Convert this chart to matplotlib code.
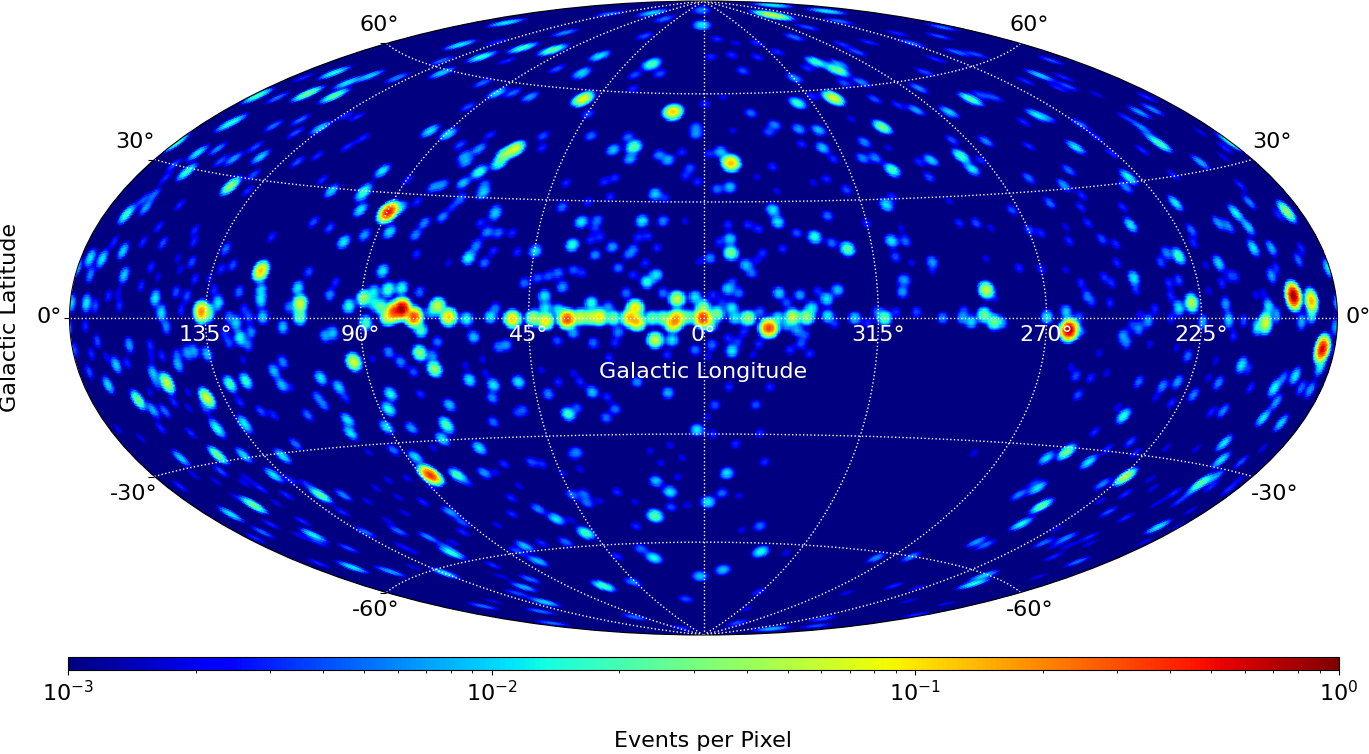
import numpy as np
import matplotlib
matplotlib.use("Agg")
import matplotlib.pyplot as plt
from matplotlib.colors import LogNorm

# sources: (x across, y down on the map sheet, events per pixel at the peak)
north_far_left = [
    (257,96,.02),(277,98,.005),(307,94,.03),(334,96,.025),(334,73,.015),(347,83,.012),(370,76,.01),(303,78,.003),
    (226,125,.01),(235,121,.01),(273,126,.005),(300,120,.005),(320,128,.01),(295,133,.004),(345,116,.003),(357,117,.003),
    (175,143,.02),(197,153,.012),(217,149,.006),(233,159,.007),(220,161,.004),(260,157,.01),(255,147,.004),(186,172,.018),
    (173,165,.004),(230,186,.04),(253,175,.004),(247,191,.003),(165,178,.003),(153,195,.005),(142,200,.004),(145,208,.007),
    (127,213,.01),(179,205,.003),(297,162,.004),(317,156,.003),(347,147,.003),(363,138,.003),(382,171,.012),(364,190,.012),
    (362,195,.01),(331,191,.01),(322,180,.003),(360,210,.012),
]
north_mid_left = [
    (506,23,.012),(460,45,.012),(482,57,.016),(523,48,.018),(553,50,.025),(565,33,.006),(507,61,.003),(442,61,.005),
    (442,73,.01),(397,78,.006),(497,42,.003),(600,56,.012),(557,69,.004),(582,72,.007),(582,75,.005),(497,93,.01),
    (483,83,.005),(513,93,.005),(530,97,.007),(583,99,.08),(468,107,.004),(652,64,.022),(635,75,.004),(660,74,.004),
    (645,36,.004),(665,19,.005),(653,13,.01),(610,14,.005),(673,112,.12),(588,114,.004),(633,89,.003),(702,25,.012),
    (702,10,.006),(430,131,.012),(448,134,.012),(460,145,.004),(479,149,.007),(464,156,.007),(466,162,.007),(479,172,.018),
    (463,183,.009),(433,187,.006),(442,185,.006),(484,185,.005),(483,193,.01),(460,199,.005),(515,149,.07),(505,154,.04),
    (499,163,.02),(543,136,.004),(542,148,.003),(490,135,.003),(591,136,.005),(613,150,.009),(634,147,.025),(628,137,.005),
    (630,159,.008),(659,155,.006),(668,160,.008),(696,127,.005),(696,134,.006),(690,168,.004),(685,176,.003),(566,183,.003),
    (604,182,.003),(615,178,.003),(655,194,.01),(665,198,.003),(588,202,.003),(610,197,.003),(562,207,.005),(495,210,.005),
    (682,152,.003),(698,182,.003),(705,104,.003),(388,212,.5),(400,208,.01),(417,202,.003),(452,207,.003),(407,180,.003),
]
north_mid_right = [
    (773,15,.06),(827,11,.012),(773,5,.012),(840,21,.005),(808,27,.004),(795,37,.005),(717,39,.003),(736,43,.002),
    (757,43,.003),(711,57,.003),(732,55,.003),(758,57,.003),(778,52,.003),(743,71,.004),(817,62,.018),(838,70,.03),
    (840,64,.007),(808,68,.003),(795,78,.007),(845,83,.004),(862,82,.006),(798,103,.018),(834,98,.07),(813,96,.003),
    (875,99,.004),(899,105,.003),(917,110,.007),(920,88,.006),(926,72,.004),(950,112,.01),(972,99,.022),(982,95,.004),
    (995,97,.004),(958,52,.005),(977,54,.004),(940,36,.004),(943,27,.005),(870,42,.003),(913,43,.005),(843,44,.003),
    (858,52,.004),(898,33,.003),(937,59,.003),(751,113,.005),(723,97,.002),(775,125,.006),(769,132,.004),(799,129,.007),
    (819,130,.009),(823,148,.009),(802,144,.003),(883,127,.03),(865,142,.006),(953,140,.004),(987,141,.006),(962,156,.02),
    (973,169,.012),(982,160,.003),(932,160,.01),(920,162,.003),(930,177,.004),(893,170,.02),(863,158,.006),(876,158,.006),
    (834,159,.003),(773,167,.003),(757,177,.002),(721,152,.009),(731,163,.14),(709,154,.003),(730,187,.009),(717,189,.005),
    (777,191,.002),(814,183,.002),(827,179,.003),(847,190,.004),(733,131,.002),(887,205,.012),(893,197,.003),(773,210,.012),
    (950,201,.002),(1013,210,.004),(852,119,.002),(889,148,.002),
]
north_far_right = [
    (1041,75,.01),(1052,60,.004),(1065,77,.003),(1069,86,.004),(1060,88,.003),(1027,81,.003),(1038,115,.012),(1048,117,.005),
    (1025,122,.003),(1141,112,.007),(1154,109,.006),(1127,117,.003),(1143,127,.006),(1162,144,.02),(1152,137,.005),(1144,150,.003),
    (1202,162,.008),(1227,148,.003),(1225,138,.003),(1225,157,.002),(1202,132,.002),(1077,147,.012),(1030,146,.003),(1070,170,.005),
    (1030,178,.005),(1130,177,.015),(1065,185,.007),(1083,195,.003),(1127,187,.006),(1051,203,.005),(1082,207,.003),(1124,207,.003),
    (1177,203,.012),(1251,202,.006),(1237,212,.008),(1288,211,.03),(1242,185,.003),(1082,124,.005),(1098,137,.003),(1113,153,.003),
    (1148,97,.003),(1098,94,.002),(1175,175,.003),
]
plane_far_left = [
    (200,312,.2),(207,313,.03),(217,303,.012),(89,258,.012),(101,259,.012),(122,251,.01),(123,275,.01),(89,275,.006),
    (85,303,.012),(70,303,.01),(94,306,.004),(107,296,.003),(118,306,.003),(117,293,.002),(140,286,.003),(154,298,.012),
    (160,313,.012),(165,327,.006),(175,292,.004),(180,310,.003),(186,296,.004),(194,279,.003),(191,262,.004),(177,258,.002),
    (179,270,.002),(157,277,.002),(150,267,.003),(142,242,.003),(113,242,.003),(162,243,.004),(158,227,.003),(124,216,.009),
    (194,230,.003),(193,242,.003),(225,249,.005),(232,265,.004),(220,269,.003),(208,278,.002),(213,290,.003),(271,237,.003),
    (260,271,.13),(260,290,.01),(260,300,.012),(262,317,.01),(238,292,.005),(243,309,.003),(248,317,.004),(235,323,.01),
    (228,317,.005),(250,332,.006),(239,338,.015),(247,345,.005),(228,343,.004),(223,333,.003),(282,327,.009),(299,304,.07),
    (299,317,.025),(297,288,.012),(308,272,.004),(288,307,.005),(329,295,.006),(335,282,.003),(348,306,.016),(343,242,.012),
    (364,235,.007),(329,228,.004),(313,222,.004),(382,271,.012),(363,298,.04),(373,292,.012),(373,303,.012),(387,290,.012),
    (324,336,.007),(332,333,.009),(353,362,.07),(372,359,.002),(365,323,.02),(186,353,.007),(193,351,.007),(206,354,.009),
    (177,365,.008),(176,355,.004),(161,356,.003),(149,345,.003),(150,357,.002),(128,345,.007),(96,341,.004),(84,326,.003),
    (73,350,.004),(90,354,.003),(105,357,.002),(115,365,.01),(126,363,.003),(88,372,.004),(107,385,.011),(152,373,.009),
    (166,383,.06),(155,383,.004),(149,392,.002),(137,400,.03),(152,410,.008),(164,411,.005),(206,398,.07),(204,408,.004),
    (173,402,.003),(187,392,.002),(188,408,.002),(229,384,.02),(245,381,.018),(239,402,.003),(242,360,.002),(273,371,.009),
    (282,362,.006),(281,385,.009),(290,387,.002),(320,378,.012),(338,387,.01),(345,398,.003),(317,397,.005),(323,405,.005),
    (260,411,.004),(273,415,.003),(307,415,.005),(347,420,.012),(243,422,.009),(215,425,.006),
]
plane_mid_left = [
    (389,232,.011),(415,235,.006),(424,223,.006),(442,217,.006),(495,215,.007),(480,223,.003),(487,232,.006),(498,233,.005),
    (512,233,.003),(477,243,.003),(468,258,.015),(475,248,.004),(484,263,.005),(493,251,.003),(517,252,.003),(535,251,.011),
    (416,254,.003),(448,263,.002),(401,288,.015),(388,289,.009),(419,292,.005),(437,306,.06),(401,309,.9),(393,312,.3),
    (413,317,.35),(448,317,.12),(430,312,.008),(466,319,.015),(420,330,.02),(387,317,.06),(380,307,.025),(473,337,.009),
    (437,342,.005),(419,353,.035),(432,356,.006),(388,352,.006),(400,362,.006),(413,372,.004),(434,369,.04),(469,380,.012),
    (493,385,.012),(492,398,.006),(449,405,.009),(390,394,.014),(388,409,.016),(420,394,.003),(498,347,.005),(506,345,.006),
    (518,382,.012),(548,394,.006),(523,410,.004),(517,413,.003),(568,414,.018),(577,408,.004),(592,392,.009),(580,382,.003),
    (615,409,.005),(607,397,.003),(493,422,.005),(445,423,.012),(606,418,.005),(485,373,.002),(465,365,.002),(482,359,.002),
    (558,382,.003),(541,370,.002),(573,373,.002),(593,343,.005),(615,343,.003),(557,341,.004),(573,333,.007),(618,332,.006),
    (655,340,.06),(672,340,.012),(667,355,.003),(609,358,.003),(637,382,.006),(668,393,.008),(695,350,.005),
]
plane_ridge = [
    (490,317,.012),(512,319,.12),(533,318,.05),(545,321,.1),(567,319,.35),(580,317,.06),(590,317,.05),(599,317,.1),
    (613,318,.03),(630,318,.15),(637,322,.12),(635,308,.1),(652,318,.025),(663,318,.03),(673,323,.15),(677,318,.15),
    (677,299,.06),(703,318,.4),(688,317,.025),(695,297,.012),(544,296,.012),(591,303,.015),(608,307,.006),(558,310,.012),
    (545,308,.012),(495,308,.005),(562,287,.007),(524,283,.005),(626,293,.005),(647,282,.015),(656,275,.012),(663,293,.005),
    (618,268,.005),(633,275,.003),(558,273,.005),(548,276,.004),(537,278,.004),(573,270,.004),(582,273,.003),(595,255,.006),
    (572,245,.016),(612,247,.007),(633,250,.005),(628,255,.004),(645,263,.003),(657,248,.003),(590,240,.003),(600,237,.003),
    (581,222,.012),(597,220,.005),(595,228,.003),(642,221,.012),(663,221,.006),(638,237,.003),(648,236,.003),(685,221,.002),
    (699,262,.002),
]
plane_mid_right = [
    (731,253,.03),(730,239,.01),(719,242,.003),(710,258,.006),(728,225,.003),(748,225,.003),(759,229,.003),(778,222,.012),
    (828,216,.005),(797,233,.004),(815,237,.016),(832,243,.005),(848,249,.025),(783,249,.003),(763,253,.003),(746,265,.009),
    (752,273,.005),(757,260,.002),(728,289,.01),(739,293,.005),(733,282,.003),(732,308,.012),(722,303,.003),(713,295,.003),
    (717,314,.03),(703,307,.03),(710,325,.02),(735,318,.012),(748,318,.04),(760,312,.005),(769,328,.35),(779,293,.01),
    (800,295,.007),(787,303,.004),(778,318,.012),(793,317,.06),(807,317,.04),(812,308,.012),(787,325,.007),(797,330,.007),
    (805,335,.004),(827,299,.012),(818,291,.003),(838,290,.009),(828,316,.012),(835,324,.003),(744,332,.003),(728,338,.003),
    (738,342,.003),(712,345,.005),(732,351,.012),(759,344,.003),(753,355,.002),(708,357,.002),(790,350,.003),(801,344,.004),
    (810,354,.003),(855,318,.01),(885,318,.025),(868,323,.003),(878,312,.005),(897,312,.003),(917,312,.004),(943,318,.006),
    (963,318,.007),(972,322,.01),(985,315,.03),(995,322,.03),(1003,323,.006),(965,310,.003),(987,290,.06),(996,298,.002),
    (903,292,.007),(906,280,.005),(933,262,.007),(933,271,.002),(902,280,.003),(892,241,.012),(906,241,.005),(896,257,.004),
    (912,263,.002),(960,223,.003),(977,223,.004),(992,228,.002),(1020,268,.003),(987,259,.002),(867,223,.003),(902,228,.002),
    (729,387,.003),(770,387,.003),(715,405,.004),(756,405,.004),(707,417,.002),
]
plane_far_right = [
    (1070,330,.8),(1067,312,.01),(1080,317,.004),(1081,332,.005),(1048,317,.012),(1088,296,.005),(1093,302,.003),(1082,283,.003),
    (1111,303,.003),(1135,278,.012),(1137,290,.003),(1113,283,.003),(1105,277,.003),(1118,263,.003),(1132,225,.012),(1117,244,.003),
    (1103,239,.004),(1070,241,.003),(1042,233,.003),(1030,230,.004),(1089,223,.003),(1067,227,.002),(1067,270,.002),(1042,269,.003),
    (1149,321,.007),(1140,329,.006),(1133,325,.003),(1124,336,.007),(1128,343,.005),(1156,309,.003),(1141,314,.002),(1151,344,.002),
    (1100,353,.002),(1072,367,.002),(1077,376,.004),(1092,378,.003),(1108,373,.002),(1140,382,.005),(1079,395,.004),(1189,356,.005),
    (1178,348,.002),(1193,230,.005),(1180,256,.02),(1168,253,.006),(1162,262,.004),(1195,243,.003),(1170,283,.003),(1180,280,.004),
    (1172,296,.003),(1180,308,.012),(1193,303,.05),(1172,318,.003),(1204,322,.008),(1220,263,.011),(1207,265,.002),(1220,223,.007),
    (1230,226,.006),(1250,227,.01),(1255,248,.012),(1273,248,.008),(1300,260,.005),(1303,248,.003),(1238,214,.006),(1290,213,.012),
    (1280,215,.003),(1273,276,.007),(1278,268,.003),(1223,283,.003),(1231,276,.003),(1237,276,.003),(1210,291,.002),(1257,295,.002),
    (1265,293,.002),(1227,304,.007),(1230,320,.011),(1245,321,.004),(1270,307,.012),(1278,315,.007),(1267,323,.07),(1259,327,.014),
    (1295,296,.9),(1313,301,.15),(1313,315,.012),(1303,322,.008),(1337,327,.007),(1330,268,.012),(1324,349,.6),(1322,367,.012),
    (1297,376,.012),(1285,378,.005),(1276,388,.014),(1278,402,.007),(1303,388,.005),(1312,390,.007),(1265,418,.012),(1283,423,.01),
    (1243,365,.012),(1250,369,.003),(1235,336,.003),(1217,361,.002),(1220,383,.006),(1210,378,.002),(1252,388,.003),(1179,382,.007),
    (1164,386,.006),(1195,395,.006),(1157,398,.002),(1173,403,.003),(1213,412,.003),(1225,411,.006),(1125,416,.016),(1119,407,.002),
]
south_far_left = [
    (217,430,.012),(160,428,.003),(117,429,.002),(140,438,.002),(190,433,.003),(180,458,.01),(217,455,.03),(243,455,.011),
    (282,456,.012),(295,444,.005),(245,427,.006),(273,475,.012),(290,480,.003),(220,471,.004),(193,475,.002),(179,486,.003),
    (215,481,.002),(245,477,.002),(243,483,.002),(260,488,.003),(253,505,.03),(230,514,.012),(235,497,.002),(306,484,.003),
    (320,495,.025),(343,495,.006),(286,495,.003),(276,503,.002),(342,512,.003),(302,521,.003),(270,524,.003),(262,532,.005),
    (255,538,.003),(313,535,.013),(317,542,.003),(298,535,.002),(348,548,.004),(365,532,.005),(352,567,.012),(318,563,.003),
    (368,452,.002),(350,433,.012),(386,427,.012),(376,488,.002),(367,501,.002),(385,570,.003),
]
south_mid_left = [
    (411,428,.007),(447,427,.012),(442,439,.012),(393,450,.005),(415,457,.011),(479,448,.012),(430,475,.4),(457,475,.02),
    (467,482,.003),(484,473,.007),(504,464,.003),(496,472,.002),(531,462,.004),(542,464,.003),(433,448,.002),(572,455,.003),
    (577,452,.005),(580,469,.002),(562,473,.002),(432,488,.002),(519,486,.002),(511,498,.003),(538,509,.006),(556,519,.012),
    (512,514,.003),(423,502,.003),(407,478,.002),(388,480,.002),(398,497,.002),(405,513,.002),(450,512,.007),(462,522,.004),
    (387,520,.002),(398,531,.005),(463,532,.003),(497,525,.002),(428,537,.006),(453,542,.002),(452,553,.016),(447,547,.004),
    (412,551,.002),(400,545,.002),(445,573,.011),(393,572,.005),(413,567,.002),(493,565,.003),(501,576,.002),(517,551,.004),
    (525,546,.009),(538,561,.009),(542,543,.003),(566,542,.005),(586,533,.02),(530,579,.005),(524,587,.008),(517,593,.004),
    (545,602,.01),(483,606,.005),(493,601,.002),(540,611,.005),(552,623,.005),(571,520,.002),(617,492,.003),(635,502,.002),
    (600,501,.002),(572,495,.005),(584,494,.005),(587,503,.005),(656,481,.009),(670,492,.012),(671,507,.004),(655,516,.025),
    (636,526,.003),(650,451,.002),(670,445,.002),(661,463,.002),(682,458,.002),(678,477,.002),(697,430,.012),(708,502,.012),
    (687,505,.002),(641,549,.005),(654,558,.014),(617,556,.003),(700,576,.009),(686,599,.004),(604,586,.02),(633,582,.006),
    (635,617,.005),(682,628,.003),
]
south_mid_right = [
    (713,434,.003),(760,433,.003),(736,444,.003),(765,462,.003),(727,473,.011),(722,493,.005),(739,496,.002),(760,526,.005),
    (742,530,.002),(761,552,.015),(787,553,.002),(723,570,.009),(759,592,.003),(877,558,.006),(912,557,.006),(978,542,.007),
    (987,545,.005),(985,576,.01),(975,584,.014),(1020,495,.006),(1023,524,.014),(975,453,.002),(895,586,.003),(918,588,.002),
    (910,601,.002),(848,593,.002),(947,604,.002),(917,615,.003),(823,619,.004),(817,626,.004),(772,629,.008),(738,623,.004),
    (747,609,.002),
]
south_far_right = [
    (1068,452,.03),(1048,458,.011),(1090,462,.012),(1109,449,.003),(1096,432,.003),(1132,442,.004),(1137,453,.003),(1127,477,.05),
    (1104,484,.006),(1152,479,.002),(1168,448,.002),(1226,443,.012),(1223,460,.012),(1198,449,.002),(1243,462,.004),(1265,448,.002),
    (1203,483,.025),(1217,477,.007),(1193,492,.004),(1213,487,.003),(1180,502,.003),(1176,493,.003),(1230,490,.003),(1240,480,.002),
    (1039,488,.012),(1035,483,.003),(1043,506,.025),(1127,494,.003),(1155,488,.002),(1102,501,.002),(1110,512,.004),(1127,518,.003),
    (1158,504,.002),(1192,511,.002),(1160,527,.012),(1068,538,.006),(1091,537,.003),(1045,543,.005),(1057,546,.002),(1070,546,.002),
    (1091,544,.002),(1055,557,.003),(1079,562,.005),(1058,529,.002),(1147,542,.002),(1180,527,.002),(1040,577,.002),
]

lon_ticks = [135, 90, 45, 0, -45, -90, -135]
lon_labels = ['135°', '90°', '45°', '0°', '315°', '270°', '225°']
lat_ticks = [60, 30, 0, -30, -60]
lat_labels = ['60°', '30°', '0°', '-30°', '-60°']
lat_left_shift = [(-7, 18), (-19, 17), (-20, 1), (-21, -17), (-11, -17)]
lat_right_shift = [(9, 18), (19, 17), (21, 1), (22, -17), (9, -17)]

SIGMA = np.radians(0.98)


def sheet_to_lonlat(sources):
    # inverse Hammer, from where a source sits on the map sheet
    mx = (sources[:, 0] - 703.5) / 635.5
    my = (318.0 - sources[:, 1]) / 317.0
    z = np.sqrt(np.clip(1 - (mx ** 2 + my ** 2) / 2, 0.5, 1))
    lon = 2 * np.arctan2(z * mx * np.sqrt(2), 2 * z ** 2 - 1)
    lat = np.arcsin(z * my * np.sqrt(2))
    return lon, lat


def smoothed_map(lon_c, lat_c, src_lon, src_lat, amp):
    field = np.full((lat_c.size, lon_c.size), 1e-4, dtype=np.float32)
    cos_lon, sin_lon = np.cos(lon_c), np.sin(lon_c)
    for slon, slat, a in zip(src_lon, src_lat, amp):
        rows = np.where(np.abs(lat_c - slat) < 6 * SIGMA)[0]
        dot = np.outer(np.cos(lat_c[rows]), cos_lon * np.cos(slon) + sin_lon * np.sin(slon)) * np.cos(slat) \
            + np.sin(lat_c[rows])[:, None] * np.sin(slat)
        field[rows] += (a * np.exp(-(1 - np.clip(dot, -1, 1)) / SIGMA ** 2)).astype(np.float32)
    return field


sources = np.array(north_far_left + north_mid_left + north_mid_right + north_far_right
                   + plane_far_left + plane_mid_left + plane_ridge + plane_mid_right + plane_far_right
                   + south_far_left + south_mid_left + south_mid_right + south_far_right, dtype=float)
src_lon, src_lat = sheet_to_lonlat(sources)

lon_e = np.radians(np.linspace(-180, 180, 1201))
lat_e = np.radians(np.linspace(-90, 90, 601))
lon_c = (lon_e[:-1] + lon_e[1:]) / 2
lat_c = (lat_e[:-1] + lat_e[1:]) / 2
field = smoothed_map(lon_c, lat_c, src_lon, src_lat, sources[:, 2])

fig = plt.figure(figsize=(13.69, 7.54), dpi=100)
ax = fig.add_axes([68 / 1369, 1 - 635 / 754, 1271 / 1369, 634 / 754], projection='hammer')
mesh = ax.pcolormesh(lon_e, lat_e, field, cmap='jet', norm=LogNorm(vmin=1e-3, vmax=1),
                     shading='flat', antialiased=False, rasterized=True)

ax.set_longitude_grid(45)
ax.set_latitude_grid(30)
ax.set_longitude_grid_ends(90)
ax.grid(True, color='white', linestyle=':', linewidth=1)
ax.xaxis.set_ticklabels([])
ax.yaxis.set_ticklabels([])
ax.yaxis.set_ticks_position('left')
ax.tick_params(axis='y', length=4, color='black')

for lon, label in zip(lon_ticks, lon_labels):
    ax.annotate(label, (np.radians(-lon), 0), xytext=(0, -17), textcoords='offset pixels',
                color='white', fontsize=16, ha='center', va='center', annotation_clip=False)
ax.annotate('Galactic Longitude', (0, 0), xytext=(0, -54), textcoords='offset pixels',
            color='white', fontsize=16, ha='center', va='center', annotation_clip=False)

for lat, label, left, right in zip(lat_ticks, lat_labels, lat_left_shift, lat_right_shift):
    ax.annotate(label, (-np.pi, np.radians(lat)), xytext=left, textcoords='offset pixels',
                fontsize=16, ha='center', va='center', annotation_clip=False)
    ax.annotate(label, (np.pi, np.radians(lat)), xytext=right, textcoords='offset pixels',
                fontsize=16, ha='center', va='center', annotation_clip=False)

fig.text(10 / 1369, 1 - 318 / 754, 'Galactic Latitude', rotation=90, fontsize=16, ha='center', va='center')

cax = fig.add_axes([68 / 1369, 1 - 670 / 754, 1271 / 1369, 13 / 754])
cbar = fig.colorbar(mesh, cax=cax, orientation='horizontal')
cbar.ax.tick_params(labelsize=16)
fig.text(703 / 1369, 1 - 741 / 754, 'Events per Pixel', fontsize=16, ha='center', va='center')

fig.savefig('out.png', dpi=100)
